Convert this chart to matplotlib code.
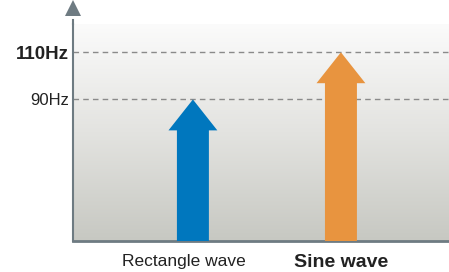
#!/usr/bin/env python3

import matplotlib
matplotlib.use('Agg')
import matplotlib.pyplot as plt
import numpy as np
from matplotlib.colors import LinearSegmentedColormap

# Data
categories = ['Rectangle wave', 'Sine wave']
frequencies = [90, 110]
colors = ['#0077be', '#e8943f']
tick_values = [90, 110]
tick_labels = ['90Hz', '110Hz']

FONT = ['Liberation Sans Narrow', 'Liberation Sans', 'DejaVu Sans']


def main():

    # ------------------------------------------
    # Figure and axes
    # ------------------------------------------
    fig = plt.figure(figsize=(4.49, 2.72), dpi=100)
    ax = fig.add_axes([73 / 449, 31 / 272, 376 / 449, 217 / 272])
    ymin, ymax = 30, 122
    xmin, xmax = -0.81, 1.73
    ax.set_xlim(xmin, xmax)
    ax.set_ylim(ymin, ymax)

    # Gradient background
    cmap = LinearSegmentedColormap.from_list('bg', ['#c7c8c2', '#e3e3e0', '#fbfbfb'])
    grad = np.linspace(0, 1, 256).reshape(-1, 1)
    ax.imshow(grad, cmap=cmap, aspect='auto', origin='lower',
              extent=[xmin, xmax, ymin, ymax], zorder=0)

    # Dashed reference lines
    for v in tick_values:
        ax.axhline(v, color='#8a8a8a', linestyle=(0, (4, 3)), linewidth=1, zorder=1)

    # Arrows
    for i, (f, c) in enumerate(zip(frequencies, colors)):
        ax.arrow(i, ymin, 0, f - ymin, width=0.216, head_width=0.33,
                 head_length=13.1, length_includes_head=True,
                 facecolor=c, edgecolor='none', zorder=3)

    # Spines
    for s in ['top', 'right']:
        ax.spines[s].set_visible(False)
    ax.spines['left'].set_color('#6e7b82')
    ax.spines['left'].set_linewidth(1.5)
    ax.spines['bottom'].set_color('#6e7b82')
    ax.spines['bottom'].set_linewidth(2)

    # Y axis extension and arrow head
    ax.plot([0, 0], [1.0, 1.02], color='#6e7b82', linewidth=1.5,
            transform=ax.transAxes, clip_on=False)
    ax.plot([0], [1.075], marker='^', markersize=12, color='#6e7b82',
            markeredgewidth=0, transform=ax.transAxes, clip_on=False, zorder=5)

    # Y ticks
    ax.set_yticks(tick_values)
    ax.set_yticklabels(tick_labels, family=FONT, color='#222222')
    ax.get_yticklabels()[0].set_fontsize(12)
    ax.get_yticklabels()[1].set_fontsize(13.5)
    ax.get_yticklabels()[1].set_fontweight('bold')
    ax.tick_params(axis='y', length=0, pad=3)

    # X labels
    ax.set_xticks([])
    label_x = [-0.06, 0.0]
    label_size = [12.5, 14]
    label_weight = ['normal', 'bold']
    for i, name in enumerate(categories):
        ax.text(i + label_x[i], -0.06, name, transform=ax.get_xaxis_transform(),
                ha='center', va='top', family=FONT, color='#222222',
                fontsize=label_size[i], fontweight=label_weight[i])

    fig.savefig('out.png', dpi=100)


if __name__ == "__main__":
    main()
